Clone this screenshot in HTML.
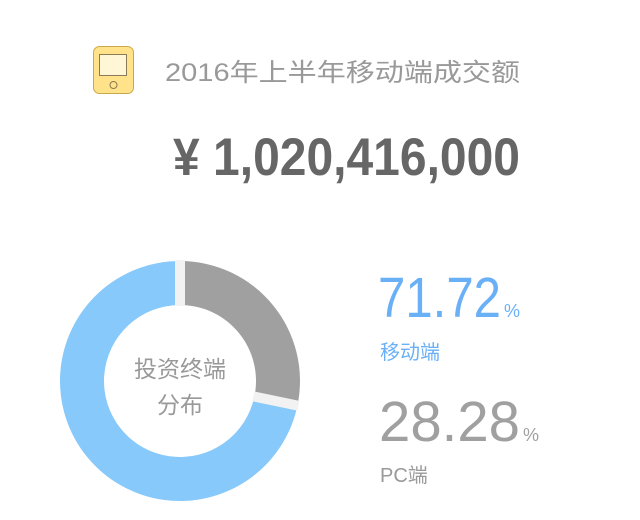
<!DOCTYPE html>
<html><head><meta charset="utf-8"><style>
html,body{margin:0;padding:0;background:#fff;}
svg{display:block;font-family:"Liberation Sans","Noto Sans CJK SC",sans-serif;}
</style></head><body>
<svg width="640" height="520" viewBox="0 0 640 520">
  <g>
    <rect x="93.5" y="46.5" width="40" height="47" rx="6" fill="#ffe28a" stroke="#c9a84a" stroke-width="1"/>
    <rect x="99.5" y="54.5" width="27" height="21" fill="#fff6d6" stroke="#8a7a55" stroke-width="1"/>
    <circle cx="113.5" cy="85" r="3.5" fill="none" stroke="#8a7a55" stroke-width="1"/>
  </g>
  <text x="165" y="81" font-size="25" fill="#999" textLength="355" lengthAdjust="spacingAndGlyphs">2016年上半年移动端成交额</text>
  <text x="173" y="175" font-size="53" font-weight="bold" fill="#666" textLength="347" lengthAdjust="spacingAndGlyphs">¥ 1,020,416,000</text>
  <g id="donut"></g>
  <text x="180" y="377" font-size="23" fill="#999" text-anchor="middle">投资终端</text>
  <text x="180" y="413" font-size="23" fill="#999" text-anchor="middle">分布</text>
  <text x="378" y="317" font-size="57" fill="#6ab0f7" textLength="123" lengthAdjust="spacingAndGlyphs">71.72</text>
  <text x="504" y="317" font-size="18" fill="#6ab0f7">%</text>
  <text x="380" y="359" font-size="20" fill="#6ab0f7">移动端</text>
  <text x="379" y="441" font-size="57" fill="#a0a0a0" textLength="141" lengthAdjust="spacingAndGlyphs">28.28</text>
  <text x="523" y="441" font-size="18" fill="#a0a0a0">%</text>
  <text x="380" y="482" font-size="20" fill="#999">PC端</text>
</svg>
<script>
const categories = ["PC端", "移动端"];
const values = [28.28, 71.72];
const colors = ["#a0a0a0", "#88c9fb"];
const cx = 180, cy = 381, rOut = 120, rIn = 76;
const g = document.getElementById('donut');
const NS = "http://www.w3.org/2000/svg";
const total = values.reduce((a, b) => a + b, 0);
function angleScale(v) { return v / total * 2 * Math.PI; }
function pt(r, a) { return [cx + r * Math.sin(a), cy - r * Math.cos(a)]; }
let a0 = 0;
const bounds = [];
values.forEach((v, i) => {
  const a1 = a0 + angleScale(v);
  const large = (a1 - a0) > Math.PI ? 1 : 0;
  const [x1, y1] = pt(rOut, a0), [x2, y2] = pt(rOut, a1);
  const [x3, y3] = pt(rIn, a1), [x4, y4] = pt(rIn, a0);
  const p = document.createElementNS(NS, 'path');
  p.setAttribute('d', `M${x1},${y1} A${rOut},${rOut} 0 ${large} 1 ${x2},${y2} L${x3},${y3} A${rIn},${rIn} 0 ${large} 0 ${x4},${y4} Z`);
  p.setAttribute('fill', colors[i]);
  
  
  g.appendChild(p);
  bounds.push(a0);
  a0 = a1;
});
bounds.forEach(a => {
  const [x1, y1] = pt(rIn - 1, a), [x2, y2] = pt(rOut + 1, a);
  const l = document.createElementNS(NS, 'line');
  l.setAttribute('x1', x1); l.setAttribute('y1', y1);
  l.setAttribute('x2', x2); l.setAttribute('y2', y2);
  l.setAttribute('stroke', '#f2f2f2'); l.setAttribute('stroke-width', '10');
  
  
  g.appendChild(l);
});
</script>
</body></html>
